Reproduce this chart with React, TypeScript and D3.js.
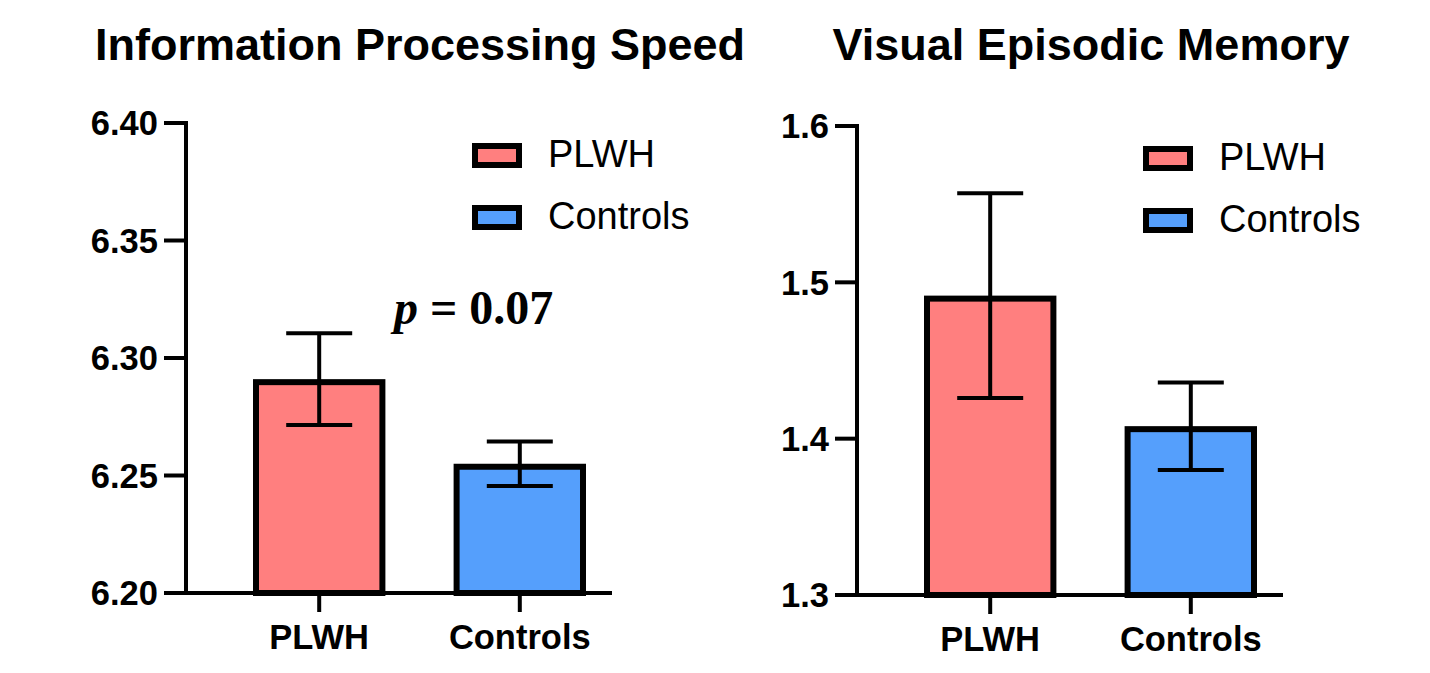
import React from "react";
import * as d3 from "d3";

const categories = ["PLWH", "Controls"];
const colors = ["#ff7f7f", "#559ffc"];

const speedMeans = [6.291, 6.255];
const speedSem = [0.0195, 0.0095];
const speedTicks = [6.2, 6.25, 6.3, 6.35, 6.4];

const memoryMeans = [1.4915, 1.408];
const memorySem = [0.0655, 0.028];
const memoryTicks = [1.3, 1.4, 1.5, 1.6];

const W = 1430;
const H = 673;
const SANS = "'Liberation Sans', Arial, Helvetica, sans-serif";
const SERIF = "'Liberation Serif', 'Times New Roman', serif";

type PanelProps = {
  title: string;
  titleX: number;
  axisX: number;
  yTop: number;
  yBottom: number;
  domain: [number, number];
  ticks: number[];
  tickFmt: (v: number) => string;
  means: number[];
  sem: number[];
  legendX: number;
  legendY: number[];
  pText?: boolean;
};

function Panel(p: PanelProps) {
  const y = d3.scaleLinear().domain(p.domain).range([p.yBottom, p.yTop]);
  const x = d3
    .scaleBand<string>()
    .domain(categories)
    .range([p.axisX + 67, p.axisX + 400])
    .paddingInner(0.34)
    .paddingOuter(0);
  const bw = x.bandwidth();
  const y0 = y(p.domain[0]);
  const sw = 6;
  return (
    <g>
      <text
        x={p.titleX}
        y={60}
        textAnchor="middle"
        fontFamily={SANS}
        fontWeight="bold"
        fontSize={45}
      >
        {p.title}
      </text>
      {/* bars */}
      {categories.map((c, i) => {
        const x0 = x(c)!;
        const yt = y(p.means[i]);
        return (
          <rect
            key={c}
            x={x0 + sw / 2}
            y={yt + sw / 2}
            width={bw - sw}
            height={y0 - yt - sw / 2}
            fill={colors[i]}
            stroke="#000"
            strokeWidth={sw}
          />
        );
      })}
      {/* error bars */}
      {categories.map((c, i) => {
        const cx = x(c)! + bw / 2;
        const hi = y(p.means[i] + p.sem[i]);
        const lo = y(p.means[i] - p.sem[i]);
        return (
          <g key={c} stroke="#000" strokeWidth={4}>
            <line x1={cx} x2={cx} y1={hi} y2={lo} />
            <line x1={cx - 33} x2={cx + 33} y1={hi} y2={hi} />
            <line x1={cx - 33} x2={cx + 33} y1={lo} y2={lo} />
          </g>
        );
      })}
      {/* y axis */}
      <line x1={p.axisX} x2={p.axisX} y1={y(p.domain[1]) - 2} y2={y0 + 2} stroke="#000" strokeWidth={4} />
      {p.ticks.map((t) => (
        <g key={t}>
          <line x1={p.axisX - 22} x2={p.axisX} y1={y(t)} y2={y(t)} stroke="#000" strokeWidth={4} />
          <text
            x={p.axisX - 28}
            y={y(t)}
            dy="0.36em"
            textAnchor="end"
            fontFamily={SANS}
            fontWeight="bold"
            fontSize={34.5}
          >
            {p.tickFmt(t)}
          </text>
        </g>
      ))}
      {/* x axis */}
      <line x1={p.axisX - 2} x2={p.axisX + 426} y1={y0} y2={y0} stroke="#000" strokeWidth={4} />
      {categories.map((c) => {
        const cx = x(c)! + bw / 2;
        return (
          <g key={c}>
            <line x1={cx} x2={cx} y1={y0} y2={y0 + 19} stroke="#000" strokeWidth={4} />
            <text
              x={cx}
              y={y0 + 56}
              textAnchor="middle"
              fontFamily={SANS}
              fontWeight="bold"
              fontSize={34.5}
            >
              {c}
            </text>
          </g>
        );
      })}
      {/* legend */}
      {categories.map((c, i) => (
        <g key={c}>
          <rect
            x={p.legendX + 3}
            y={p.legendY[i] + 3}
            width={44}
            height={19}
            fill={colors[i]}
            stroke="#000"
            strokeWidth={6}
          />
          <text
            x={p.legendX + 76}
            y={p.legendY[i] + 24}
            fontFamily={SANS}
            fontSize={38}
          >
            {c}
          </text>
        </g>
      ))}
      {p.pText && (
        <text x={394} y={324} fontFamily={SERIF} fontWeight="bold" fontSize={48}>
          <tspan fontStyle="italic">p</tspan>
          <tspan> = 0.07</tspan>
        </text>
      )}
    </g>
  );
}

export default function App() {
  return (
    <svg width={W} height={H} style={{ display: "block", position: "absolute", left: 0, top: 0, background: "#fff" }}>
      <rect width={W} height={H} fill="#fff" />
      <Panel
        title="Information Processing Speed"
        titleX={420}
        axisX={186}
        yTop={123}
        yBottom={593}
        domain={[6.2, 6.4]}
        ticks={speedTicks}
        tickFmt={d3.format(".2f")}
        means={speedMeans}
        sem={speedSem}
        legendX={472}
        legendY={[143, 205]}
        pText
      />
      <Panel
        title="Visual Episodic Memory"
        titleX={1091}
        axisX={857}
        yTop={126}
        yBottom={595}
        domain={[1.3, 1.6]}
        ticks={memoryTicks}
        tickFmt={d3.format(".1f")}
        means={memoryMeans}
        sem={memorySem}
        legendX={1143}
        legendY={[146, 208]}
      />
    </svg>
  );
}
